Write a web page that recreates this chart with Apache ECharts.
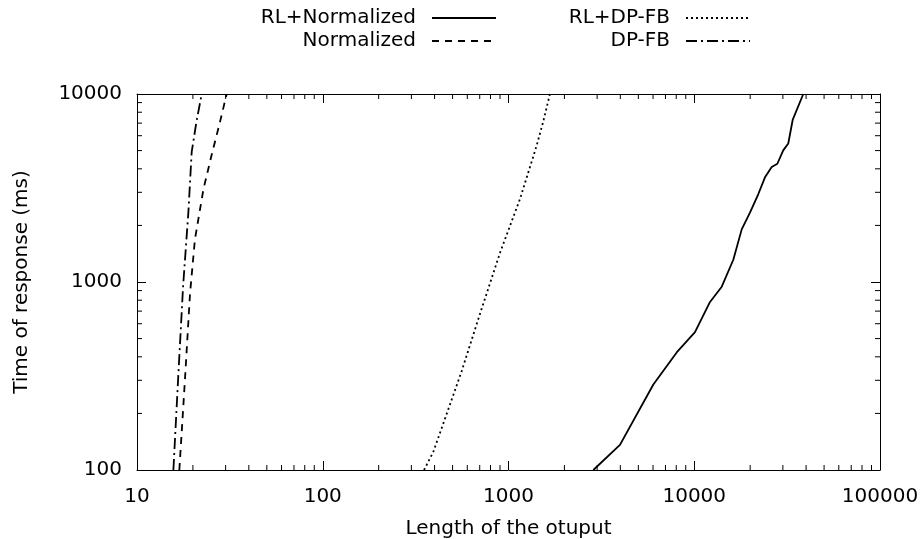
<!DOCTYPE html>
<html>
<head>
<meta charset="utf-8">
<script src="https://cdn.jsdelivr.net/npm/echarts@6/dist/echarts.min.js"></script>
<style>
  html, body { margin: 0; padding: 0; background: #fff; }
  #chart { width: 923px; height: 539px; }
</style>
</head>
<body>
<div id="chart"></div>
<script>
// values (x = output length, y = response time in ms)
var rlNormX = [2862, 3981, 6022, 8043, 10090, 12160, 14060, 16230, 18010, 19950, 22130, 24030, 26120, 28010, 30130, 32070, 33870, 38640];
var rlNormY = [100, 136, 285, 422, 541, 783, 944, 1313, 1905, 2339, 2938, 3604, 4087, 4256, 5014, 5455, 7276, 10000];

var normX = [16.9, 18.1, 19.3, 20.5, 22.8, 25.2, 28.0, 30.4];
var normY = [100, 297, 869, 1683, 3125, 4723, 7130, 10000];

var rlDpX = [351, 394, 560, 703, 899, 1153, 1419, 1538, 1671];
var rlDpY = [100, 125, 336, 680, 1426, 2761, 5336, 7130, 10000];

var dpX = [15.7, 16.7, 17.7, 18.9, 19.7, 20.9, 22.3];
var dpY = [100, 323, 944, 2339, 4921, 7130, 10000];

// minor ticks (log 2..9 of each decade)
var xMinor = [20, 30, 40, 50, 60, 70, 80, 90, 200, 300, 400, 500, 600, 700, 800, 900,
  2000, 3000, 4000, 5000, 6000, 7000, 8000, 9000, 20000, 30000, 40000, 50000, 60000, 70000, 80000, 90000];
var yMinor = [200, 300, 400, 500, 600, 700, 800, 900, 2000, 3000, 4000, 5000, 6000, 7000, 8000, 9000];

var X_MIN = 10, X_MAX = 100000, Y_MIN = 100, Y_MAX = 10000;

function zip(xs, ys) {
  var out = [];
  for (var i = 0; i < xs.length; i++) out.push([xs[i], ys[i]]);
  return out;
}

var FONT = 'DejaVu Sans';
var chart = echarts.init(document.getElementById('chart'), null, { renderer: 'canvas' });

function tickLine(p, dx, dy) {
  return { type: 'line', shape: { x1: p[0], y1: p[1], x2: p[0] + dx, y2: p[1] + dy },
    style: { stroke: '#000', lineWidth: 1 } };
}

var lbl = function (v) { return String(Math.round(v)); };

// legend: line sample only, no symbol
var legendBase = {
  orient: 'vertical', align: 'right', top: 8, padding: 0,
  itemWidth: 64, itemHeight: 14, itemGap: 3,
  itemStyle: { opacity: 0, color: 'transparent', borderWidth: 0 },
  textStyle: { fontFamily: FONT, fontSize: 20, color: '#000', padding: [0, 11, 0, 0] }
};

option = {
  animation: false,
  backgroundColor: '#fff',
  textStyle: { fontFamily: FONT, color: '#000' },
  grid: { left: 137, right: 43, top: 94, bottom: 69, outerBoundsMode: 'none', containLabel: false },
  legend: [
    Object.assign({}, legendBase, { data: ['RL+Normalized', 'Normalized'], right: 426 }),
    Object.assign({}, legendBase, { data: ['RL+DP-FB', 'DP-FB'], right: 172 })
  ],
  xAxis: [
    {
      type: 'log', logBase: 10, min: X_MIN, max: X_MAX,
      name: 'Length of the otuput', nameLocation: 'middle', nameGap: 49,
      nameTextStyle: { fontFamily: FONT, fontSize: 20, color: '#000' },
      axisLine: { show: true, lineStyle: { color: '#000', width: 1 } },
      axisTick: { show: true, inside: true, length: 9, lineStyle: { color: '#000' } },
      axisLabel: { fontFamily: FONT, fontSize: 20, color: '#000', margin: 17, formatter: lbl, showMinLabel: true, showMaxLabel: true },
      splitLine: { show: false }
    },
    {
      type: 'log', logBase: 10, min: X_MIN, max: X_MAX, position: 'top',
      axisLine: { show: true, lineStyle: { color: '#000', width: 1 } },
      axisTick: { show: true, inside: true, length: 9, lineStyle: { color: '#000' } },
      axisLabel: { show: false },
      splitLine: { show: false }
    }
  ],
  yAxis: [
    {
      type: 'log', logBase: 10, min: Y_MIN, max: Y_MAX,
      name: 'Time of response (ms)', nameLocation: 'middle', nameGap: 105, nameRotate: 90,
      nameTextStyle: { fontFamily: FONT, fontSize: 20, color: '#000' },
      axisLine: { show: true, lineStyle: { color: '#000', width: 1 } },
      axisTick: { show: true, inside: true, length: 9, lineStyle: { color: '#000' } },
      axisLabel: { fontFamily: FONT, fontSize: 20, color: '#000', margin: 15, formatter: lbl, showMinLabel: true, showMaxLabel: true },
      splitLine: { show: false }
    },
    {
      type: 'log', logBase: 10, min: Y_MIN, max: Y_MAX, position: 'right',
      axisLine: { show: true, lineStyle: { color: '#000', width: 1 } },
      axisTick: { show: true, inside: true, length: 9, lineStyle: { color: '#000' } },
      axisLabel: { show: false },
      splitLine: { show: false }
    }
  ],
  series: [
    {
      name: 'RL+Normalized', type: 'line', symbol: 'none', data: zip(rlNormX, rlNormY),
      lineStyle: { color: '#000', width: 1.8, type: 'solid' }, itemStyle: { color: '#000' }
    },
    {
      name: 'Normalized', type: 'line', symbol: 'none', data: zip(normX, normY),
      lineStyle: { color: '#000', width: 1.8, type: [7, 6] }, itemStyle: { color: '#000' }
    },
    {
      name: 'RL+DP-FB', type: 'line', symbol: 'none', data: zip(rlDpX, rlDpY),
      lineStyle: { color: '#000', width: 1.8, type: [2, 3] }, itemStyle: { color: '#000' }
    },
    {
      name: 'DP-FB', type: 'line', symbol: 'none', data: zip(dpX, dpY),
      lineStyle: { color: '#000', width: 1.8, type: [11, 4, 2, 4] }, itemStyle: { color: '#000' }
    },
    {
      // minor ticks on bottom and top axes
      name: 'xminor', type: 'custom', silent: true, clip: false,
      data: xMinor.map(function (v) { return [v]; }),
      renderItem: function (params, api) {
        var v = api.value(0);
        var b = api.coord([v, Y_MIN]);
        var t = api.coord([v, Y_MAX]);
        return { type: 'group', children: [tickLine(b, 0, -5), tickLine(t, 0, 5)] };
      }
    },
    {
      // minor ticks on left and right axes
      name: 'yminor', type: 'custom', silent: true, clip: false,
      data: yMinor.map(function (v) { return [X_MIN, v]; }),
      encode: { x: 0, y: 1 },
      renderItem: function (params, api) {
        var v = api.value(1);
        var l = api.coord([X_MIN, v]);
        var r = api.coord([X_MAX, v]);
        return { type: 'group', children: [tickLine(l, 5, 0), tickLine(r, -5, 0)] };
      }
    }
  ]
};

chart.setOption(option);
</script>
</body>
</html>
